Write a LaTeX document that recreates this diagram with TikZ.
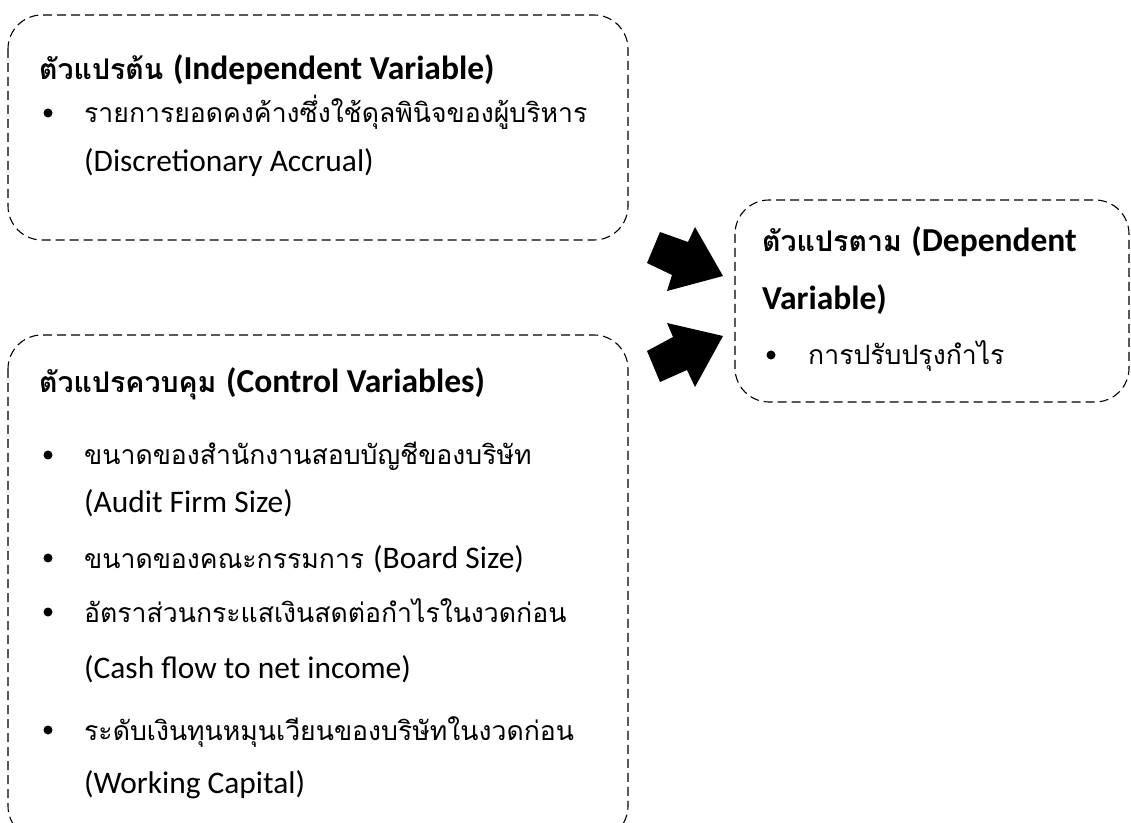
\documentclass[tikz,border=0pt]{standalone}
\usepackage{fontspec}
\setmainfont[Script=Thai]{Loma}
\newfontfamily\latf{Carlito}
\newcommand{\la}[1]{{\latf\fontsize{31.4}{34}\selectfont #1}}
\newcommand{\lt}[1]{{\latf\fontsize{33.5}{36}\selectfont #1}}
\begin{document}
\begin{tikzpicture}[x=1pt,y=1pt,
  dbox/.style={draw=black, line width=1.1pt, dash pattern=on 9pt off 5pt, rounded corners=34pt},
  ttl/.style={anchor=base west, inner sep=0pt, font=\fontsize{28.5}{34}\selectfont\bfseries},
  txt/.style={anchor=base west, inner sep=0pt, font=\fontsize{26.6}{32}\selectfont},
  bul/.style={circle, fill=black, inner sep=0pt, minimum size=9pt},
  blockarrow/.style={fill=black}]
\useasboundingbox (0,0) rectangle (1131,822);
% boxes
\draw[dbox] (8,807) rectangle (628,582);
\draw[dbox] (735,622) rectangle (1129,420);
\draw[dbox] (8,487) rectangle (628,-18);
% box 1
\node[ttl] (t1) at (39,742) {ตัวแปรต้น \lt{(Independent Variable)}};
\node[bul] (b1) at (48,709) {};
\node[txt] (l1) at (84,699) {รายการยอดคงค้างซึ่งใช้ดุลพินิจของผู้บริหาร};
\node[txt] (l2) at (84,650) {\la{(Discretionary Accrual)}};
% box 2
\node[ttl] (t2) at (762,570) {ตัวแปรตาม \lt{(Dependent}};
\node[ttl] (t2b) at (762,512) {\lt{Variable)}};
\node[bul] (b2) at (771,467) {};
\node[txt] (l3) at (808,457) {การปรับปรุงกำไร};
% box 3
\node[ttl] (t3) at (39,429) {ตัวแปรควบคุม \lt{(Control Variables)}};
\node[bul] (b3) at (48,367) {};
\node[txt] (l4) at (84,357) {ขนาดของสำนักงานสอบบัญชีของบริษัท};
\node[txt] (l5) at (84,309) {\la{(Audit Firm Size)}};
\node[bul] (b4) at (48,264) {};
\node[txt] (l6) at (84,254) {ขนาดของคณะกรรมการ \la{(Board Size)}};
\node[bul] (b5) at (48,210) {};
\node[txt] (l7) at (84,200) {อัตราส่วนกระแสเงินสดต่อกำไรในงวดก่อน};
\node[txt] (l8) at (84,144) {\la{(Cash flow to net income)}};
\node[bul] (b6) at (48,92) {};
\node[txt] (l9) at (84,82) {ระดับเงินทุนหมุนเวียนของบริษัทในงวดก่อน};
\node[txt] (l10) at (84,29) {\la{(Working Capital)}};
% block arrows
\fill[blockarrow] (660,590) -- (688,580) -- (695,595) -- (723,546) -- (667,531) -- (672,547) -- (647,559) -- cycle;
\fill[blockarrow] (667,499) -- (673,485) -- (647,471) -- (660,440) -- (687,452) -- (695,435) -- (723,486) -- cycle;
\end{tikzpicture}
\end{document}
